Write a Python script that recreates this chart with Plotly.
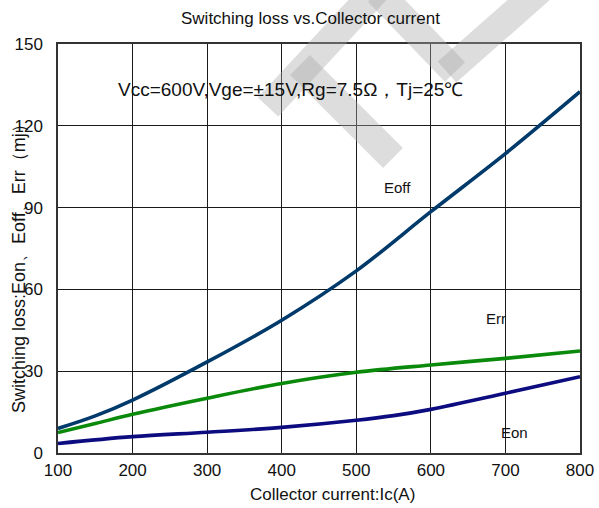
import plotly.graph_objects as go

# ---- data ----
ic_off = [100, 150, 200, 300, 400, 500, 600, 700, 800]
eoff = [9.0, 13.6, 19.4, 33.4, 48.7, 66.8, 88.5, 109.8, 132.5]

ic_rr = [100, 150, 200, 300, 400, 500, 600, 700, 800]
err = [7.5, 10.8, 14.2, 20.1, 25.5, 29.6, 32.3, 34.7, 37.4]

ic_on = [100, 200, 300, 400, 500, 550, 600, 700, 800]
eon = [3.5, 6.0, 7.6, 9.4, 12.0, 13.7, 16.0, 21.9, 28.0]

x_ticks = [100, 200, 300, 400, 500, 600, 700, 800]
y_ticks = [0, 30, 60, 90, 120, 150]

W, H = 599, 508
L, R, T, B = 58, 19, 44, 55
PW, PH = W - L - R, H - T - B


def px(x):  # pixel -> paper
    return (x - L) / PW


def py(y):
    return (H - B - y) / PH


FONT = "Liberation Sans, Arial, sans-serif"
TXT = "#111"

fig = go.Figure()
fig.add_trace(go.Scatter(x=ic_off, y=eoff, mode="lines", name="Eoff",
                         line=dict(color="#003a6b", width=3.6, shape="spline")))
fig.add_trace(go.Scatter(x=ic_rr, y=err, mode="lines", name="Err",
                         line=dict(color="#0a8a0a", width=3.6, shape="spline")))
fig.add_trace(go.Scatter(x=ic_on, y=eon, mode="lines", name="Eon",
                         line=dict(color="#0c0c80", width=3.6, shape="spline")))

shapes = []
# white masks breaking gridlines behind labels
for (x0, y0, x1, y1) in [(120, 65, 515, 112), (484, 298, 512, 334), (494, 413, 532, 447)]:
    shapes.append(dict(type="rect", xref="paper", yref="paper",
                       x0=px(x0), x1=px(x1), y0=py(y1), y1=py(y0),
                       fillcolor="white", line=dict(width=0), layer="between"))
# watermark
wm = dict(color="rgba(170,170,170,0.4)", width=28)
for (x0, y0, x1, y1) in [(268, 107, 400, -35), (300, 65, 393, 158),
                         (378, -8, 455, 72), (447, 72, 540, -10)]:
    shapes.append(dict(type="line", xref="paper", yref="paper",
                       x0=px(x0), y0=py(y0), x1=px(x1), y1=py(y1),
                       line=wm, layer="above"))

annotations = [
    dict(text="Switching loss vs.Collector current", x=px(310), y=py(18),
         font=dict(size=17, color=TXT)),
    dict(text="Vcc=600V,Vge=±15V,Rg=7.5Ω，Tj=25℃", x=px(290), y=py(90),
         font=dict(size=19, color=TXT)),
    dict(text="Eoff", x=px(397), y=py(187), font=dict(size=15, color=TXT)),
    dict(text="Err", x=px(496), y=py(318), font=dict(size=15, color=TXT)),
    dict(text="Eon", x=px(514), y=py(432), font=dict(size=15, color=TXT)),
    dict(text="Collector current:Ic(A)", x=px(332), y=py(494),
         font=dict(size=17, color=TXT)),
    dict(text="Switching loss:Eon、Eoff、Err（mj）", x=px(19), y=py(264),
         textangle=-90, font=dict(size=18, color=TXT)),
]
for a in annotations:
    a.update(xref="paper", yref="paper", showarrow=False,
             xanchor="center", yanchor="middle")

fig.update_layout(
    width=W, height=H,
    margin=dict(l=L, r=R, t=T, b=B, autoexpand=False),
    paper_bgcolor="white", plot_bgcolor="white",
    showlegend=False,
    font=dict(family=FONT, color=TXT),
    shapes=shapes,
    annotations=annotations,
    xaxis=dict(range=[100, 800], tickmode="array", tickvals=x_ticks,
               showgrid=True, gridcolor="#1a1a1a", gridwidth=1,
               showline=True, linecolor="#333", linewidth=1.5, mirror=True,
               ticks="", zeroline=False, tickfont=dict(size=17),
               ticklabelstandoff=1, automargin=False),
    yaxis=dict(range=[0, 150], tickmode="array", tickvals=y_ticks,
               showgrid=True, gridcolor="#1a1a1a", gridwidth=1,
               showline=True, linecolor="#333", linewidth=1.5, mirror=True,
               ticks="", zeroline=False, tickfont=dict(size=17),
               ticklabelstandoff=10, automargin=False),
)

fig.write_html(
    "out.html",
    config={"displayModeBar": False},
    post_script="document.body.style.margin='0';document.body.style.overflow='hidden';",
)
